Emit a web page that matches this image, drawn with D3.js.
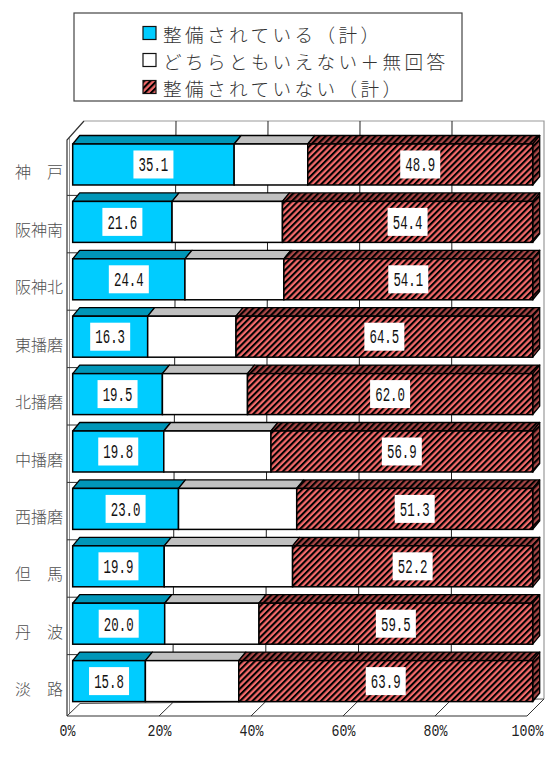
<!DOCTYPE html>
<html>
<head>
<meta charset="utf-8">
<script src="https://cdn.jsdelivr.net/npm/d3@7/dist/d3.min.js"></script>
<style>
  html,body{margin:0;padding:0;background:#fff;}
  svg{display:block;}
</style>
</head>
<body>
<svg id="chart" width="560" height="773"></svg>
<script>
// ---- data ----
const categories = ["神　戸","阪神南","阪神北","東播磨","北播磨","中播磨","西播磨","但　馬","丹　波","淡　路"];
const seriesNames = ["整備されている（計）","どちらともいえない＋無回答","整備されていない（計）"];
const developed    = [35.1,21.6,24.4,16.3,19.5,19.8,23.0,19.9,20.0,15.8];
const neutral      = [16.0,24.0,21.5,19.2,18.5,23.3,25.7,27.9,20.5,20.3];
const notDeveloped = [48.9,54.4,54.1,64.5,62.0,56.9,51.3,52.2,59.5,63.9];
const tickValues = [0,20,40,60,80,100];

// ---- setup ----
const svg = d3.select("#chart");
const defs = svg.append("defs");
function hatch(id, bg){
  const p = defs.append("pattern").attr("id", id)
    .attr("patternUnits","userSpaceOnUse").attr("width",4.4).attr("height",8)
    .attr("patternTransform","rotate(45)");
  p.append("rect").attr("width",4.4).attr("height",8).attr("fill",bg);
  p.append("rect").attr("width",2.1).attr("height",8).attr("fill","#000");
}
hatch("hatch","#F46A6A");
hatch("hatchDark","#A84646");

const x = d3.scaleLinear().domain([0,100]).range([67,527]);   // front plane
const BX = 5.7;                                                 // bar front face offset
const xb = v => x(v) + BX;
const y = d3.scaleBand().domain(categories).range([144,701.6]).paddingInner(0.286).paddingOuter(0);
const bw = y.bandwidth();
const TD = {dx:7, dy:-8.5};

// wall geometry
const wallTop = 140, wallTopBack = 121, floorY = 716;
const floorOff = v => ({dx: 13 + 4*v/100, dy: -12.5 - 4.5*v/100});
const topOff = {dx:17, dy:-19};

const frame = svg.append("g");
// back wall top + right edges
frame.append("path")
  .attr("d", `M${x(0)+topOff.dx},${wallTopBack} L${x(100)+topOff.dx},${wallTopBack} L${x(100)+floorOff(100).dx},${floorY+floorOff(100).dy}`)
  .attr("fill","none").attr("stroke","#9a9a9a").attr("stroke-width",1.2);
// back gridlines
tickValues.slice(1,5).forEach(v=>{
  frame.append("line")
    .attr("x1", x(v)+topOff.dx).attr("y1", wallTopBack)
    .attr("x2", x(v)+floorOff(v).dx).attr("y2", floorY+floorOff(v).dy)
    .attr("stroke","#222").attr("stroke-width",1);
});
// floor back line
frame.append("line")
  .attr("x1", x(0)+floorOff(0).dx).attr("y1", floorY+floorOff(0).dy)
  .attr("x2", x(100)+floorOff(100).dx).attr("y2", floorY+floorOff(100).dy)
  .attr("stroke","#555").attr("stroke-width",1);
// floor front line
frame.append("line").attr("x1",x(0)).attr("x2",x(100)).attr("y1",floorY).attr("y2",floorY)
  .attr("stroke","#333").attr("stroke-width",1.2);
// floor tick diagonals
tickValues.forEach(v=>{
  frame.append("line")
    .attr("x1", x(v)).attr("y1", floorY)
    .attr("x2", x(v)+floorOff(v).dx).attr("y2", floorY+floorOff(v).dy)
    .attr("stroke","#333").attr("stroke-width",1);
});
// left wall
frame.append("path")
  .attr("d", `M${x(0)},${floorY} L${x(0)},${wallTop} L${x(0)+topOff.dx},${wallTopBack}`)
  .attr("fill","none").attr("stroke","#333").attr("stroke-width",1.2);
frame.append("line").attr("x1",x(0)+2.5).attr("x2",x(0)+2.5).attr("y1",wallTop-2).attr("y2",floorY-3)
  .attr("stroke","#777").attr("stroke-width",0.8);
// left wall category separators
categories.slice(1).forEach(c=>{
  frame.append("line").attr("x1",x(0)).attr("x2",xb(0)+4.5)
    .attr("y1",y(c)-6).attr("y2",y(c)-6).attr("stroke","#333").attr("stroke-width",1);
});

// ---- bars ----
const rows = categories.map((c,i)=>({cat:c, vals:[developed[i],neutral[i],notDeveloped[i]]}));
const frontFill = ["#00CCFF","#FFFFFF","url(#hatch)"];
const topFill = ["#0096B8","#C0C0C0","url(#hatchDark)"];

const rowG = svg.append("g").selectAll("g").data(rows).join("g");
rowG.each(function(r){
  const g = d3.select(this);
  const y0 = y(r.cat);
  let acc = 0;
  const segs = r.vals.map((v,k)=>{ const s={k, a:acc, b:acc+v, v}; acc+=v; return s; });
  segs[2].b = 100;
  // top faces
  segs.forEach(s=>{
    g.append("path")
      .attr("d", `M${xb(s.a)},${y0} L${xb(s.b)},${y0} L${xb(s.b)+TD.dx},${y0+TD.dy} L${xb(s.a)+TD.dx},${y0+TD.dy}Z`)
      .attr("fill", topFill[s.k]).attr("stroke","#000").attr("stroke-width",1.3).attr("stroke-linejoin","round");
  });
  // right side face
  g.append("path")
    .attr("d", `M${xb(100)},${y0} L${xb(100)+TD.dx},${y0+TD.dy} L${xb(100)+TD.dx},${y0+TD.dy+bw} L${xb(100)},${y0+bw}Z`)
    .attr("fill","url(#hatchDark)").attr("stroke","#000").attr("stroke-width",1.3).attr("stroke-linejoin","round");
  // front faces
  segs.forEach(s=>{
    g.append("rect")
      .attr("x", xb(s.a)).attr("y", y0).attr("width", xb(s.b)-xb(s.a)).attr("height", bw)
      .attr("fill", frontFill[s.k]).attr("stroke","#000").attr("stroke-width",1.5);
  });
  // labels for first and third segment
  [segs[0], segs[2]].forEach(s=>{
    const cx = (xb(s.a)+xb(s.b))/2, cy = y0 + bw/2;
    g.append("rect").attr("x", cx-20).attr("y", cy-14).attr("width",40).attr("height",28).attr("fill","#fff");
    g.append("text")
      .attr("transform", `translate(${cx},${cy+6.8}) scale(0.62,1)`)
      .attr("text-anchor","middle")
      .attr("font-family","'Liberation Mono', monospace").attr("font-size",20)
      .attr("fill","#111")
      .text(s.v.toFixed(1));
  });
});

// ---- category labels ----
svg.append("g").selectAll("text").data(categories).join("text")
  .attr("x", 63).attr("y", d=>y(d)+bw/2+7)
  .attr("text-anchor","end").attr("dominant-baseline","central")
  .attr("font-family","'Noto Sans CJK JP', sans-serif").attr("font-size",16).attr("font-weight",300)
  .attr("fill","#505050")
  .text(d=>d);

// ---- x axis labels ----
const axis = d3.axisBottom(x).tickValues(tickValues).tickFormat(d=>d+"%").tickSize(0);
const ax = svg.append("g").attr("transform",`translate(0,${floorY})`).call(axis);
ax.select(".domain").remove();
ax.selectAll("text")
  .attr("y",0).attr("dy",0)
  .attr("transform","translate(0,20) scale(0.78,1)")
  .attr("font-family","'Liberation Mono', monospace").attr("font-size",17)
  .attr("fill","#222");

// ---- legend ----
const lg = svg.append("g");
lg.append("rect").attr("x",74).attr("y",13).attr("width",388).attr("height",88)
  .attr("fill","#fff").attr("stroke","#444").attr("stroke-width",1.2);
const legFill = ["#00CCFF","#FFFFFF","url(#hatch)"];
const li = lg.selectAll("g").data(seriesNames).join("g")
  .attr("transform",(d,i)=>`translate(143,${33+i*27})`);
li.append("rect").attr("x",0).attr("y",-6.5).attr("width",13).attr("height",13)
  .attr("fill",(d,i)=>legFill[i]).attr("stroke","#111").attr("stroke-width",1.2);
li.append("text").attr("x",20).attr("y",0).attr("dominant-baseline","central")
  .attr("font-family","'Noto Sans CJK JP', sans-serif").attr("font-size",18.6).attr("font-weight",300)
  .attr("letter-spacing",3.4)
  .attr("fill","#333").text(d=>d);
</script>
</body>
</html>
